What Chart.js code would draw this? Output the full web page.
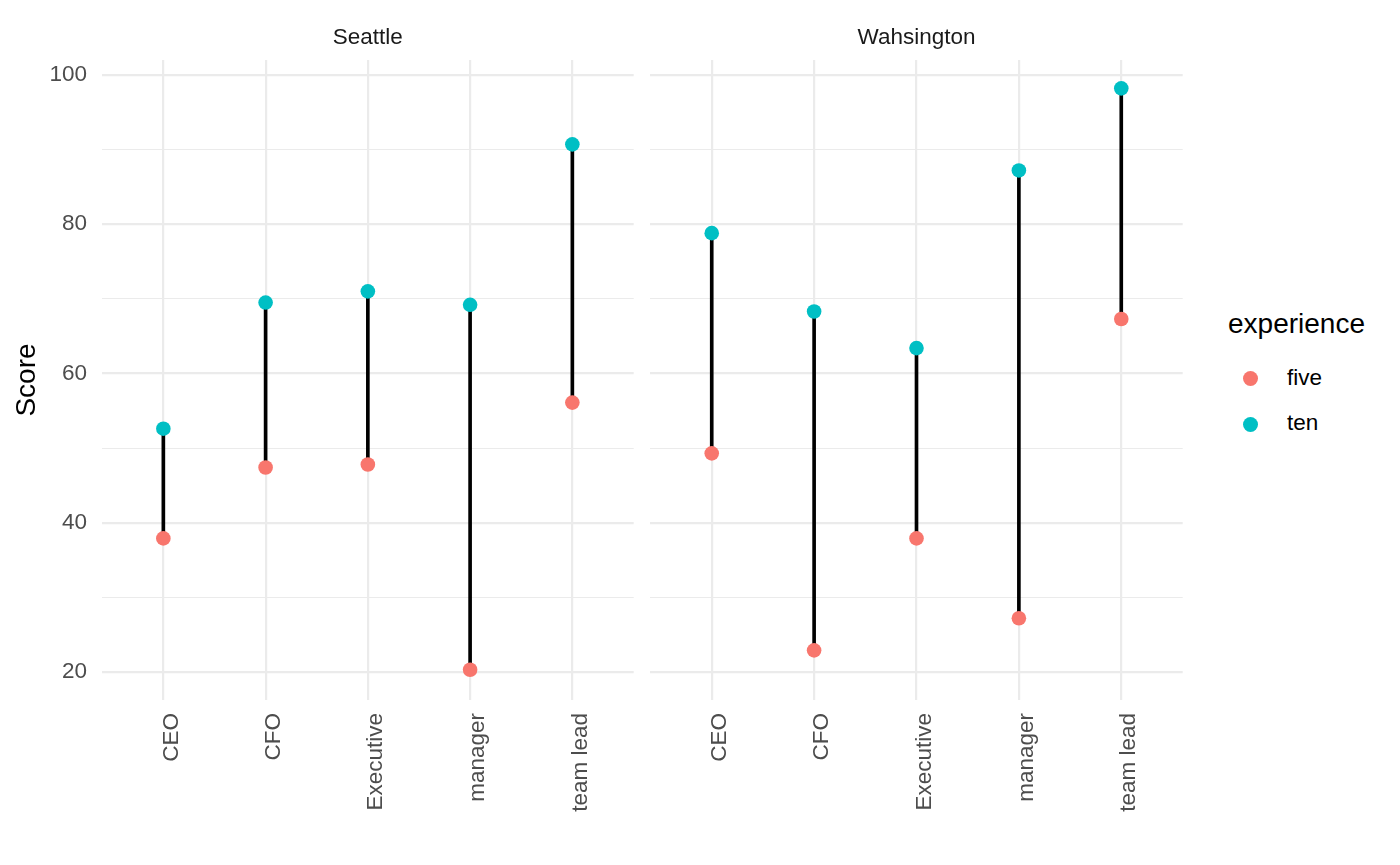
<!DOCTYPE html>
<html>
<head>
<meta charset="utf-8">
<script src="https://cdn.jsdelivr.net/npm/chart.js@4.4.1/dist/chart.umd.min.js"></script>
<style>
  body { margin: 0; background: #fff; font-family: "Liberation Sans", Arial, Helvetica, sans-serif; }
  #wrap { position: relative; width: 1400px; height: 865px; overflow: hidden; }
  canvas { position: absolute; top: 0; }
  .lg { position: absolute; color: #000; white-space: nowrap; }
  .dot { position: absolute; width: 15px; height: 15px; border-radius: 50%; }
</style>
</head>
<body>
<div id="wrap">
  <!-- point radius adds ~7px padding round each chart area, so canvases are widened by that much -->
  <canvas id="seattle" width="641" height="865" style="left:0px"></canvas>
  <canvas id="wash" width="547" height="865" style="left:643px"></canvas>
  <div class="lg" style="left:1228px; top:310px; font-size:28px; line-height:28px;">experience</div>
  <div class="dot" style="left:1243px; top:371px; background:#F8766D"></div>
  <div class="lg" style="left:1287px; top:367px; font-size:22.5px; line-height:22.5px;">five</div>
  <div class="dot" style="left:1243px; top:417px; background:#00BFC4"></div>
  <div class="lg" style="left:1287px; top:412px; font-size:22.5px; line-height:22.5px;">ten</div>
</div>
<script>
const categories = ['CEO', 'CFO', 'Executive', 'manager', 'team lead'];
const seattleFive = [37.9, 47.4, 47.8, 20.3, 56.1];
const seattleTen  = [52.6, 69.5, 71.0, 69.2, 90.7];
const washFive    = [49.3, 22.9, 37.9, 27.2, 67.3];
const washTen     = [78.8, 68.3, 63.4, 87.2, 98.2];
const yTicks      = [20, 30, 40, 50, 60, 70, 80, 90, 100];

const FONT = '"Liberation Sans", Arial, Helvetica, sans-serif';
const GRID = '#ebebeb';

function makeChart(id, title, five, ten, showY) {
  const segs = categories.map((c, i) => ({ x: i, y: [five[i], ten[i]] }));
  const fivePts = categories.map((c, i) => ({ x: i, y: five[i] }));
  const tenPts = categories.map((c, i) => ({ x: i, y: ten[i] }));

  return new Chart(document.getElementById(id), {
    type: 'bar',
    data: {
      datasets: [
        { type: 'bar', label: 'range', data: segs, backgroundColor: '#000', barThickness: 3, order: 3 },
        { type: 'scatter', label: 'five', data: fivePts, backgroundColor: '#F8766D', pointRadius: 7.3, borderWidth: 0, order: 1 },
        { type: 'scatter', label: 'ten', data: tenPts, backgroundColor: '#00BFC4', pointRadius: 7.3, borderWidth: 0, order: 1 }
      ]
    },
    options: {
      responsive: false,
      animation: false,
      layout: { padding: 0 },
      plugins: {
        legend: { display: false },
        tooltip: { enabled: false },
        title: {
          display: true,
          fullSize: false,   // strip label centred over the panel, not the canvas
          text: title,
          color: '#1a1a1a',
          font: { family: FONT, size: 22.5, weight: 'normal' },
          padding: { top: 24.5, bottom: 8.5 }
        }
      },
      scales: {
        x: {
          type: 'linear',
          offset: false,
          min: -0.6,
          max: 4.6,
          afterBuildTicks: s => { s.ticks = categories.map((c, i) => ({ value: i })); },
          afterFit: s => { s.height = 165; s.paddingLeft = 0; s.paddingRight = 0; },
          ticks: {
            callback: (v, i) => categories[i],
            autoSkip: false,
            minRotation: 90,
            maxRotation: 90,
            padding: 13,
            labelOffset: 8,
            color: '#4d4d4d',
            font: { family: FONT, size: 22.5 }
          },
          grid: { color: GRID, lineWidth: 2.2, drawTicks: false, offset: false },
          border: { display: false }
        },
        y: {
          min: 16.25,
          max: 102,
          afterBuildTicks: s => { s.ticks = yTicks.map(v => ({ value: v })); },
          afterFit: s => { s.width = showY ? 102 : 0; },
          ticks: {
            display: showY,
            callback: v => (v % 20 === 0 ? v : ''),
            padding: 15,
            color: '#4d4d4d',
            font: { family: FONT, size: 22.5 }
          },
          title: {
            display: showY,
            text: 'Score',
            color: '#000',
            font: { family: FONT, size: 28 },
            padding: { top: 10, bottom: 0 }
          },
          grid: {
            color: GRID,
            lineWidth: ctx => (ctx.tick && ctx.tick.value % 20 === 0 ? 2.2 : 1.1),
            drawTicks: false
          },
          border: { display: false }
        }
      }
    }
  });
}

makeChart('seattle', 'Seattle', seattleFive, seattleTen, true);
makeChart('wash', 'Wahsington', washFive, washTen, false);
</script>
</body>
</html>
